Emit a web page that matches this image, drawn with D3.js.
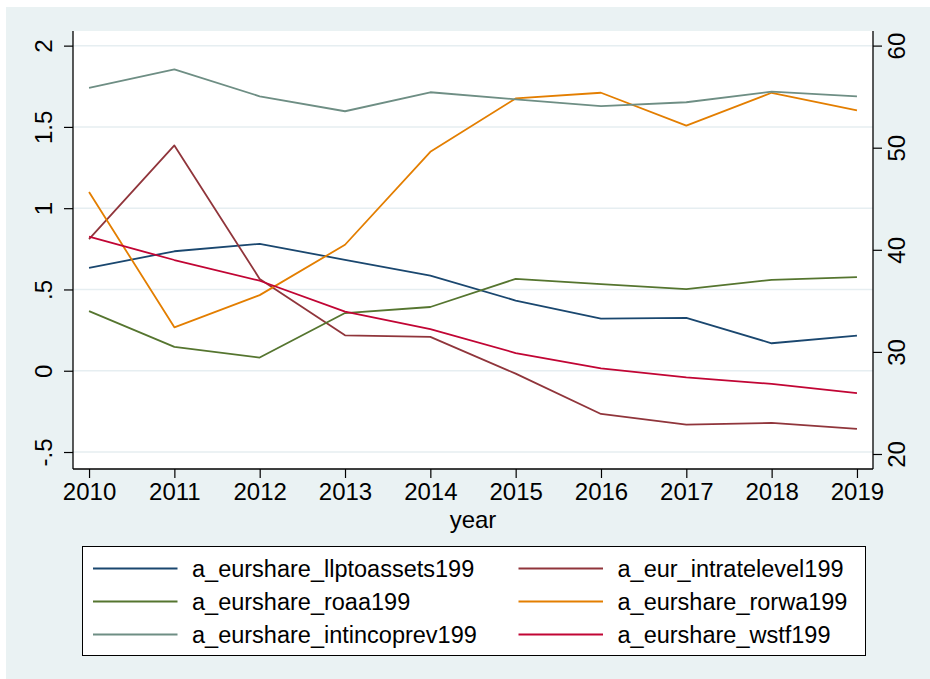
<!DOCTYPE html>
<html>
<head>
<meta charset="utf-8">
<script src="https://cdn.jsdelivr.net/npm/d3@7"></script>
<style>
  body { margin: 0; background: #fff; }
  text { font-family: 'Liberation Sans', Arial, Helvetica, sans-serif; fill: #000; }
</style>
</head>
<body>
<svg id="chart"></svg>
<script>
const years = [2010, 2011, 2012, 2013, 2014, 2015, 2016, 2017, 2018, 2019];

// left axis series
const llptoassets = [0.633, 0.735, 0.781, 0.682, 0.585, 0.432, 0.320, 0.325, 0.169, 0.216];
const intratelevel = [0.81, 1.386, 0.565, 0.218, 0.208, -0.018, -0.266, -0.331, -0.321, -0.358];
const roaa = [0.367, 0.147, 0.081, 0.355, 0.392, 0.565, 0.533, 0.502, 0.559, 0.576];
const rorwa = [1.100, 0.267, 0.465, 0.775, 1.347, 1.675, 1.710, 1.508, 1.710, 1.602];
// right axis series
const intincoprev = [55.85, 57.68, 55.03, 53.57, 55.43, 54.74, 54.08, 54.45, 55.49, 55.03];
const wstf = [41.28, 39.0, 36.97, 33.94, 32.24, 29.89, 28.39, 27.51, 26.86, 25.97];

const leftTicks = [-0.5, 0, 0.5, 1, 1.5, 2];
const leftLabels = ['-.5', '0', '.5', '1', '1.5', '2'];
const rightTicks = [20, 30, 40, 50, 60];

const series = [
  { name: 'a_eurshare_llptoassets199', values: llptoassets, axis: 'left', color: '#1a476f' },
  { name: 'a_eur_intratelevel199', values: intratelevel, axis: 'left', color: '#90353b' },
  { name: 'a_eurshare_roaa199', values: roaa, axis: 'left', color: '#55752f' },
  { name: 'a_eurshare_rorwa199', values: rorwa, axis: 'left', color: '#e37e00' },
  { name: 'a_eurshare_intincoprev199', values: intincoprev, axis: 'right', color: '#6e8e84' },
  { name: 'a_eurshare_wstf199', values: wstf, axis: 'right', color: '#c10534' },
];

const W = 930, H = 679;
const plot = { left: 73, right: 873, top: 31, bottom: 469 };

const svg = d3.select('#chart').attr('width', W).attr('height', H);

// outer graph region
svg.append('rect').attr('x', 6).attr('y', 7).attr('width', W - 6).attr('height', H - 7).attr('fill', '#eaf2f3');
svg.append('rect')
  .attr('x', plot.left).attr('y', plot.top)
  .attr('width', plot.right - plot.left).attr('height', plot.bottom - plot.top)
  .attr('fill', '#fff');

const x = d3.scaleLinear([2009.812, 2019.188], [plot.left, plot.right]);
const yL = d3.scaleLinear([-0.6045, 2.09], [plot.bottom, plot.top]);
const yR = d3.scaleLinear([18.53, 61.43], [plot.bottom, plot.top]);

// gridlines from left axis
svg.append('g')
  .selectAll('line')
  .data(leftTicks)
  .join('line')
  .attr('x1', plot.left).attr('x2', plot.right)
  .attr('y1', (d) => yL(d)).attr('y2', (d) => yL(d))
  .attr('stroke', '#e6eef1')
  .attr('stroke-width', 1.5);

// axes
const fs = 24;
const leftAxis = svg.append('g')
  .attr('transform', `translate(${plot.left},0)`)
  .call(d3.axisLeft(yL).tickValues(leftTicks).tickFormat((d, i) => leftLabels[i]).tickSize(9).tickPadding(0));
const rightAxis = svg.append('g')
  .attr('transform', `translate(${plot.right},0)`)
  .call(d3.axisRight(yR).tickValues(rightTicks).tickFormat(d3.format('d')).tickSize(9).tickPadding(0));
const bottomAxis = svg.append('g')
  .attr('transform', `translate(0,${plot.bottom})`)
  .call(d3.axisBottom(x).tickValues(years).tickFormat(d3.format('d')).tickSize(9).tickPadding(0));

[leftAxis, rightAxis, bottomAxis].forEach((g) => {
  g.select('.domain').remove();
  g.selectAll('.tick line').attr('stroke', '#000').attr('stroke-width', 1.2);
  g.selectAll('.tick text').attr('font-size', fs).attr('fill', '#000')
    .attr('font-family', "'Liberation Sans', Arial, sans-serif");
});

// rotated y labels (Stata style)
leftAxis.selectAll('.tick text')
  .attr('x', null).attr('dy', null)
  .attr('text-anchor', 'middle')
  .attr('transform', `translate(${52 - plot.left},0) rotate(-90)`);
rightAxis.selectAll('.tick text')
  .attr('x', null).attr('dy', null)
  .attr('text-anchor', 'middle')
  .attr('transform', `translate(${905 - plot.right},0) rotate(-90)`);
bottomAxis.selectAll('.tick text').attr('y', 30.5).attr('dy', null);

// axis lines
const axisLines = [
  [plot.left, plot.top, plot.left, plot.bottom],
  [plot.right, plot.top, plot.right, plot.bottom],
  [plot.left, plot.bottom, plot.right, plot.bottom],
];
svg.append('g')
  .selectAll('line')
  .data(axisLines)
  .join('line')
  .attr('x1', (d) => d[0]).attr('y1', (d) => d[1])
  .attr('x2', (d) => d[2]).attr('y2', (d) => d[3])
  .attr('stroke', '#000')
  .attr('stroke-width', 1.3);

// lines
const linesG = svg.append('g');
series.forEach((s) => {
  const yScale = s.axis === 'left' ? yL : yR;
  const line = d3.line()
    .x((_, i) => x(years[i]))
    .y((v) => yScale(v));
  linesG.append('path')
    .attr('d', line(s.values))
    .attr('fill', 'none')
    .attr('stroke', s.color)
    .attr('stroke-width', 1.8)
    .attr('stroke-linejoin', 'round');
});

// x title
svg.append('text')
  .attr('x', (plot.left + plot.right) / 2)
  .attr('y', 528)
  .attr('text-anchor', 'middle')
  .attr('font-size', fs)
  .text('year');

// legend
const legend = svg.append('g');
legend.append('rect')
  .attr('x', 82.5).attr('y', 546.5)
  .attr('width', 783).attr('height', 109)
  .attr('fill', '#fff')
  .attr('stroke', '#000')
  .attr('stroke-width', 1);
const colX = [93, 518.5];
const rowY = [568.5, 601.5, 634.5];
const items = legend.selectAll('g.item')
  .data(series)
  .join('g')
  .attr('class', 'item')
  .attr('transform', (_, i) => `translate(${colX[i % 2]},${rowY[Math.floor(i / 2)]})`);
items.append('line')
  .attr('x1', 0).attr('x2', 84.5)
  .attr('y1', 0).attr('y2', 0)
  .attr('stroke', (d) => d.color)
  .attr('stroke-width', 1.8);
items.append('text')
  .attr('x', 99)
  .attr('y', 8.5)
  .attr('font-size', 23.5)
  .text((d) => d.name);
</script>
</body>
</html>
